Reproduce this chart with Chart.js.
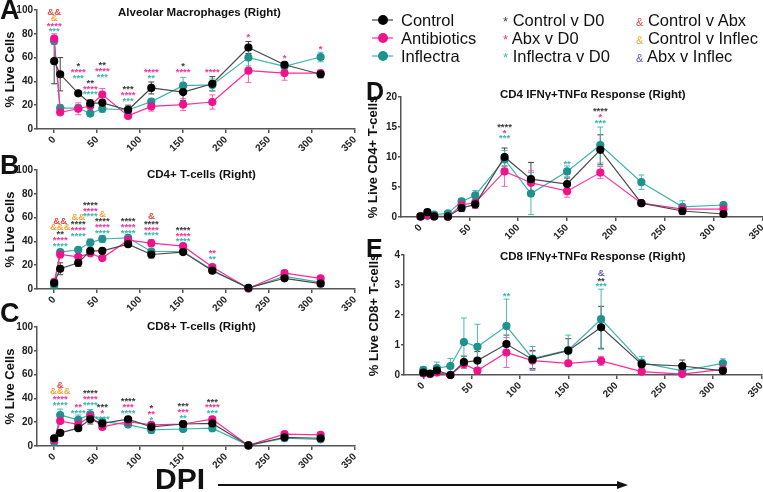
<!DOCTYPE html>
<html>
<head>
<meta charset="utf-8">
<script src="https://cdn.jsdelivr.net/npm/chart.js@4.4.0/dist/chart.umd.min.js"></script>
<style>
  body { margin: 0; width: 763px; height: 492px; background: #fff; position: relative; overflow: hidden;
         font-family: "Liberation Sans", Arial, sans-serif; color: #111; }
  canvas { position: absolute; }
  .t { position: absolute; white-space: nowrap; line-height: 1; }
  .ttl { font-weight: bold; font-size: 11.5px; transform: translateY(-50%); }
  .big { font-weight: bold; }
  .lg { font-size: 16.5px; transform: translateY(-50%); }
</style>
</head>
<body>
<canvas id="cA" width="365" height="160" style="left:0;top:0"></canvas>
<canvas id="cB" width="365" height="160" style="left:0;top:160px"></canvas>
<canvas id="cC" width="365" height="160" style="left:0;top:317px"></canvas>
<canvas id="cD" width="409" height="160" style="left:363px;top:87px"></canvas>
<canvas id="cE" width="407" height="160" style="left:364px;top:245px"></canvas>

<div class="t big" style="left:0;top:-3px;font-size:27px">A</div>
<div class="t big" style="left:0;top:152px;font-size:27px">B</div>
<div class="t big" style="left:0;top:300px;font-size:27px">C</div>
<div class="t big" style="left:366px;top:79px;font-size:25px">D</div>
<div class="t big" style="left:366px;top:236px;font-size:25px">E</div>

<div class="t ttl" style="left:118px;top:13px">Alveolar Macrophages (Right)</div>
<div class="t ttl" style="left:147px;top:175px">CD4+ T-cells (Right)</div>
<div class="t ttl" style="left:147px;top:327px">CD8+ T-cells (Right)</div>
<div class="t ttl" style="left:500px;top:95px">CD4 IFNγ+TNFα Response (Right)</div>
<div class="t ttl" style="left:500px;top:257px">CD8 IFNγ+TNFα Response (Right)</div>

<svg style="position:absolute;left:360px;top:0" width="50" height="70">
  <line x1="12" y1="20" x2="33" y2="20" stroke="#444" stroke-width="1.2"/><circle cx="23" cy="20" r="5" fill="#000"/>
  <line x1="12" y1="38" x2="33" y2="38" stroke="#ff2b9c" stroke-width="1.2"/><circle cx="23" cy="38" r="5" fill="#ef138b"/>
  <line x1="12" y1="56" x2="33" y2="56" stroke="#3fb3ae" stroke-width="1.2"/><circle cx="23" cy="56" r="5" fill="#1f928d"/>
</svg>
<div class="t lg" style="left:401px;top:20px">Control</div>
<div class="t lg" style="left:401px;top:38px">Antibiotics</div>
<div class="t lg" style="left:401px;top:56px">Inflectra</div>
<div class="t lg" style="left:503px;top:20px"><span style="color:#444;font-size:13px">*</span> Control v D0</div>
<div class="t lg" style="left:503px;top:38px"><span style="color:#f2359c;font-size:13px">*</span> Abx v D0</div>
<div class="t lg" style="left:503px;top:56px"><span style="color:#3cb7b0;font-size:13px">*</span> Inflectra v D0</div>
<div class="t lg" style="left:636px;top:20px"><span style="color:#de4b4b;font-size:11px">&amp;</span> Control v Abx</div>
<div class="t lg" style="left:636px;top:38px"><span style="color:#f4a53c;font-size:11px">&amp;</span> Control v Inflec</div>
<div class="t lg" style="left:636px;top:56px"><span style="color:#5b5bb5;font-size:11px">&amp;</span> Abx v Inflec</div>

<div class="t big" style="left:155px;top:464px;font-size:30px">DPI</div>
<svg style="position:absolute;left:0;top:474px" width="763" height="18">
  <line x1="218" y1="11" x2="620" y2="11" stroke="#111" stroke-width="2"/>
  <polygon points="628,11 617,7 617,15" fill="#111"/>
</svg>

<script>
// time points (days post infection)
const dpiCells = [0, 7, 28, 42, 56, 86, 113, 150, 184, 226, 268, 310];
const dpiCyto = [0, 7, 14, 28, 42, 56, 86, 113, 150, 184, 226, 268, 310];
const xTicks = [0, 50, 100, 150, 200, 250, 300, 350];

// A: alveolar macrophages
const amControl = [57, 46, 30, 21.5, 22, 16, 34.5, 31, 38, 68.5, 54, 46];
const amAbx = [76, 14, 17, 19.5, 29, 11, 19, 20.5, 22.7, 49, 47, 47];
const amInf = [74, 17.6, 17.6, 13, 17, 16, 23, 36.4, 37, 60, 52.7, 60.5];
const amControlErr = [19, 14, 1, 3, 3, 4, 5, 7, 6, 5, 2, 3];
const amAbxErr = [4, 2, 5, 3, 5, 1.5, 4, 5, 6, 10, 6, 2];
const amInfErr = [3, 3, 3, 2, 3, 2, 2, 7, 5, 7, 3, 4];

// B: CD4+ T cells
const cd4Control = [5, 17, 22, 32, 32, 37.7, 29, 31, 15.4, 1, 9, 4.5];
const cd4Abx = [6, 29, 27, 30, 26, 41, 38.5, 36, 18.4, 0.5, 13.4, 9];
const cd4Inf = [3, 31, 33, 39, 42, 43, 31.5, 31.5, 16, 0.5, 10.6, 5.5];
const cd4ControlErr = [2, 5, 3, 2, 1, 2, 3, 2, 2, 0.5, 1, 1];
const cd4AbxErr = [2, 3, 2, 1, 1, 2, 3, 2, 2, 0.5, 2, 1];
const cd4InfErr = [1, 2, 1, 3, 3, 1, 2, 2, 1, 0.5, 1, 1];

// C: CD8+ T cells
const cd8Control = [6.5, 11, 15, 22.5, 19, 22.5, 16, 18.5, 19, 0.5, 7.3, 6.5];
const cd8Abx = [5, 21, 18, 25, 16, 20.5, 17.7, 18.5, 22.5, 0.5, 10, 9.3];
const cd8Inf = [3.4, 26, 22, 26.7, 20.5, 18, 13.5, 14.3, 15, 0.5, 6.5, 5.6];
const cd8ControlErr = [2, 2, 2, 4, 2, 2, 3, 2, 2, 0.5, 1, 1];
const cd8AbxErr = [2, 2, 3, 3, 2, 2, 2, 2, 2, 0.5, 1, 1];
const cd8InfErr = [1, 5, 4, 4, 2, 2, 3, 2, 3, 0.5, 1, 1];

// D: CD4 IFNg+TNFa
const dControl = [0.1, 0.8, 0.1, 0.1, 1.5, 2.1, 10, 6.3, 5.5, 11.2, 2.3, 1.0, 0.5];
const dAbx = [0.1, 0.3, 0.1, 0, 2, 2.4, 7.6, 5.7, 4.3, 7.4, 2.3, 1.3, 1.3];
const dInf = [0.1, 0.2, 0.4, 0.6, 2.6, 3.6, 9.6, 3.9, 7.6, 12, 5.8, 1.7, 2];
const dControlErr = [0.1, 0.4, 0.1, 0.1, 0.6, 0.6, 1.5, 2.8, 1, 2.5, 0.3, 0.6, 0.2];
const dAbxErr = [0.1, 0.2, 0.1, 0.1, 0.5, 1, 2.5, 2, 1, 1, 0.3, 0.6, 0.3];
const dInfErr = [0.1, 0.2, 0.2, 0.3, 0.5, 0.8, 1.5, 3.5, 0.9, 3, 1.2, 1, 0.3];

// E: CD8 IFNg+TNFa
const eControl = [0.08, 0.05, 0.15, 0, 0.43, 0.48, 1.03, 0.52, 0.81, 1.59, 0.36, 0.3, 0.14];
const eAbx = [0.05, 0.03, 0.08, 0, 0.37, 0.15, 0.75, 0.48, 0.39, 0.47, 0.11, 0.03, 0.19];
const eInf = [0.17, 0.03, 0.23, 0.3, 1.1, 0.94, 1.63, 0.55, 0.83, 1.86, 0.41, 0.14, 0.39];
const eControlErr = [0.05, 0.05, 0.1, 0.02, 0.2, 0.3, 0.3, 0.3, 0.4, 0.7, 0.1, 0.2, 0.1];
const eAbxErr = [0.05, 0.02, 0.05, 0.02, 0.1, 0.1, 0.5, 0.3, 0.1, 0.15, 0.05, 0.05, 0.05];
const eInfErr = [0.1, 0.05, 0.2, 0.25, 0.8, 0.75, 0.9, 0.4, 0.5, 1.0, 0.2, 0.15, 0.15];

// significance marks: [dpi, value of lowest line, lines top to bottom as "colour:text"]
const starsA = [
  [0, 84, ['r:&&', 'o:&', 'a:****', 'i:***']],
  [28, 45, ['c:*', 'a:****', 'i:***']],
  [42, 31, ['c:**', 'a:****', 'i:****']],
  [56, 45.6, ['c:**', 'a:****', 'i:***']],
  [86, 25.5, ['c:***', 'a:****', 'i:***']],
  [113, 45, ['a:****', 'i:**']],
  [150, 50, ['c:*', 'a:****']],
  [184, 50, ['a:****']],
  [226, 79, ['a:*']],
  [268, 62, ['a:*']],
  [310, 69, ['a:*']]
];
const starsB = [
  [7, 38, ['r:&&', 'o:&&&', 'c:**', 'a:****', 'i:****']],
  [28, 46.4, ['o:&&', 'c:****', 'a:****', 'i:****']],
  [42, 63, ['c:****', 'a:****', 'i:****']],
  [56, 49, ['o:&', 'c:****', 'a:****', 'i:****']],
  [86, 49, ['c:****', 'a:****', 'i:****']],
  [113, 47, ['r:&', 'c:****', 'a:****', 'i:****']],
  [150, 42, ['c:****', 'a:****', 'i:****']],
  [184, 27, ['a:**', 'i:**']]
];
const starsC = [
  [7, 36.5, ['r:&', 'o:&&&', 'a:****', 'i:****']],
  [28, 29.5, ['a:**', 'i:****']],
  [42, 36.5, ['c:****', 'a:****', 'i:****']],
  [56, 24.7, ['c:***', 'a:*', 'i:****']],
  [86, 29.8, ['c:****', 'a:***', 'i:****']],
  [113, 24, ['c:*', 'a:**', 'i:*']],
  [150, 25.5, ['c:***', 'a:***', 'i:**']],
  [184, 29.5, ['c:***', 'a:****', 'i:***']]
];
const starsD = [
  [86, 13.5, ['c:****', 'a:*', 'i:***']],
  [150, 9.3, ['i:**']],
  [184, 16.1, ['c:****', 'a:*', 'i:***']]
];
const starsE = [
  [86, 2.7, ['i:**']],
  [184, 3.03, ['b:&', 'c:**', 'i:***']]
];

const FONT = '"Liberation Sans", Arial, sans-serif';
const markColors = { c: '#3a3a3a', a: '#f2359c', i: '#3cb7b0', r: '#de4b4b', o: '#f4a53c', b: '#5b5bb5' };

// vertical error bars with caps, drawn under the points
const errPlugin = {
  id: 'errbars',
  beforeDatasetsDraw(chart) {
    const { ctx, scales: { y } } = chart;
    chart.data.datasets.forEach((ds, i) => {
      const pts = chart.getDatasetMeta(i).data;
      ctx.save();
      ctx.strokeStyle = ds.errColor;
      ctx.lineWidth = 1;
      ds.data.forEach((p, j) => {
        const e = ds.err[j];
        const px = pts[j].x;
        const top = y.getPixelForValue(p.y + e), bot = y.getPixelForValue(Math.max(p.y - e, 0));
        ctx.beginPath();
        ctx.moveTo(px, top); ctx.lineTo(px, bot);
        ctx.moveTo(px - 3, top); ctx.lineTo(px + 3, top);
        ctx.moveTo(px - 3, bot); ctx.lineTo(px + 3, bot);
        ctx.stroke();
      });
      ctx.restore();
    });
  }
};

const starsPlugin = {
  id: 'stars',
  afterDatasetsDraw(chart, args, opts) {
    const { ctx, scales: { x, y } } = chart;
    ctx.save();
    ctx.font = 'bold 9.5px ' + FONT;
    ctx.textAlign = 'center';
    ctx.textBaseline = 'alphabetic';
    (opts.items || []).forEach(([dx, dy, lines]) => {
      const px = x.getPixelForValue(dx);
      let py = y.getPixelForValue(dy);
      for (let k = lines.length - 1; k >= 0; k--) {
        const [code, txt] = lines[k].split(':');
        ctx.fillStyle = markColors[code];
        ctx.fillText(txt, px, py + (txt[0] === '*' ? 5.3 : 3.3));
        py -= 5.8;
      }
    });
    ctx.restore();
  }
};

function build(c, ce, a, ae, i, ie) {
  const st = [
    { line: '#4a4a4a', fill: '#000', errC: '#444' },
    { line: '#ff2b9c', fill: '#ef138b', errC: '#ff5db5' },
    { line: '#3fb3ae', fill: '#1f928d', errC: '#4fb8b3' }
  ];
  return [[c, ce], [a, ae], [i, ie]].map(([v, e], k) => ({ vals: v, err: e, ...st[k] }));
}

function panel(id, xs, sets, yMax, yStep, yTitle, yW, padTop, padRight, xH, stars) {
  new Chart(document.getElementById(id), {
    type: 'line',
    data: {
      datasets: sets.map(s => ({
        data: xs.map((d, k) => ({ x: d, y: s.vals[k] })),
        err: s.err,
        errColor: s.errC,
        borderColor: s.line,
        backgroundColor: s.fill,
        pointBackgroundColor: s.fill,
        pointBorderColor: s.fill,
        borderWidth: 1.2,
        pointRadius: 3.5,
        pointHoverRadius: 3.5,
        tension: 0,
        clip: false
      }))
    },
    options: {
      responsive: false,
      animation: false,
      devicePixelRatio: 1,
      layout: { padding: { top: padTop, right: padRight, left: 0, bottom: 0 } },
      plugins: { legend: { display: false }, tooltip: { enabled: false }, stars: { items: stars } },
      scales: {
        x: {
          type: 'linear', min: -20, max: 350,
          afterBuildTicks: s => { s.ticks = xTicks.map(v => ({ value: v })); },
          afterFit: s => { s.height = xH; },
          grid: { drawOnChartArea: false, color: '#555', tickLength: 4, lineWidth: 1.5 },
          border: { color: '#555', width: 1.5 },
          ticks: { minRotation: 45, maxRotation: 45, padding: 1, color: '#222',
                   font: { family: FONT, size: 10, weight: 'bold' } }
        },
        y: {
          min: 0, max: yMax,
          afterFit: s => { s.width = yW; },
          grid: { drawOnChartArea: false, color: '#555', tickLength: 3, lineWidth: 1.5 },
          border: { color: '#555', width: 1.5 },
          ticks: { stepSize: yStep, padding: 1, color: '#222', font: { family: FONT, size: 10, weight: 'bold' } },
          title: { display: true, text: yTitle, color: '#111', padding: { top: 3, bottom: 0 },
                   font: { family: FONT, size: 13, weight: 'bold' } }
        }
      }
    },
    plugins: [errPlugin, starsPlugin]
  });
}

panel('cA', dpiCells, build(amControl, amControlErr, amAbx, amAbxErr, amInf, amInfErr),
      100, 20, '% Live Cells', 37, 10, 10, 31, starsA);
panel('cB', dpiCells, build(cd4Control, cd4ControlErr, cd4Abx, cd4AbxErr, cd4Inf, cd4InfErr),
      100, 20, '% Live Cells', 37, 10, 10, 31, starsB);
panel('cC', dpiCells, build(cd8Control, cd8ControlErr, cd8Abx, cd8AbxErr, cd8Inf, cd8InfErr),
      100, 20, '% Live Cells', 37, 10, 10, 31, starsC);
panel('cD', dpiCyto, build(dControl, dControlErr, dAbx, dAbxErr, dInf, dInfErr),
      20, 5, '% Live CD4+ T-cells', 38, 10, 6, 30, starsD);
panel('cE', dpiCyto, build(eControl, eControlErr, eAbx, eAbxErr, eInf, eInfErr),
      4, 1, '% Live CD8+ T-cells', 40, 10, 1, 30, starsE);
</script>
</body>
</html>
